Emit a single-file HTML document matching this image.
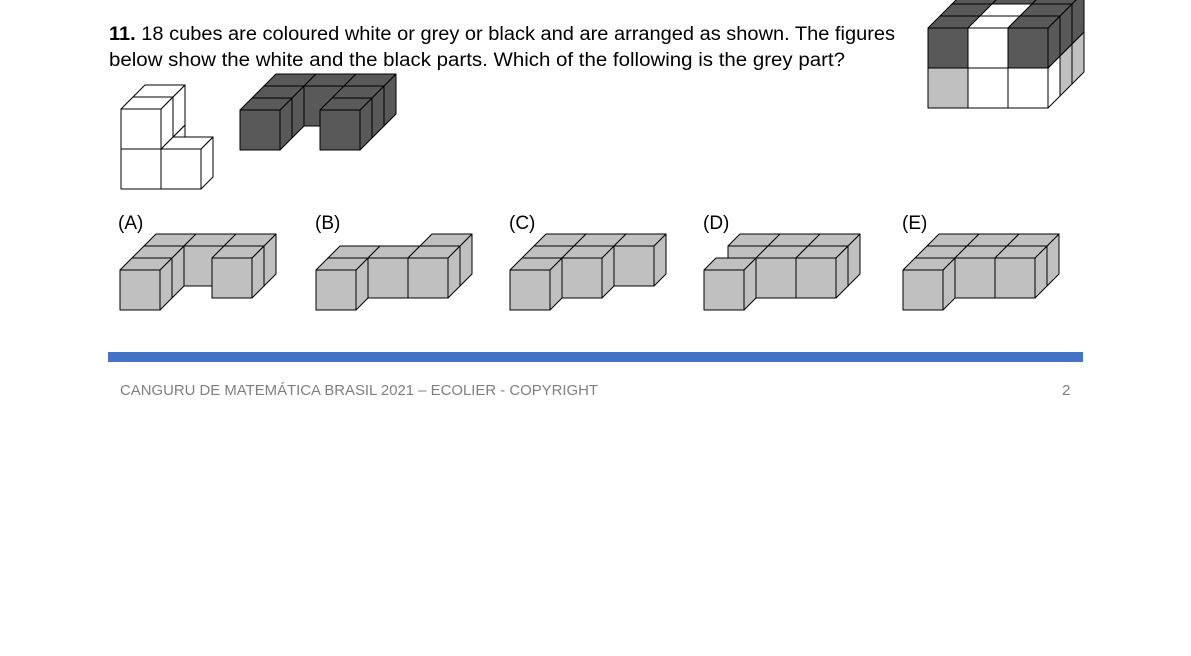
<!DOCTYPE html>
<html><head><meta charset="utf-8"><style>
html,body{margin:0;padding:0;background:#fff;width:1191px;height:656px;overflow:hidden}
svg{display:block}
text{font-family:"Liberation Sans",sans-serif}
</style></head><body>
<svg id="s" width="1191" height="656" viewBox="0 0 1191 656" xmlns="http://www.w3.org/2000/svg">
<rect width="1191" height="656" fill="#fff"/>
<text x="109" y="40" font-size="19" textLength="786" lengthAdjust="spacingAndGlyphs"><tspan font-weight="bold">11.</tspan> 18 cubes are coloured white or grey or black and are arranged as shown. The figures</text>
<text x="109" y="66" font-size="19" textLength="736" lengthAdjust="spacingAndGlyphs">below show the white and the black parts. Which of the following is the grey part?</text>
<text x="118" y="229" font-size="19">(A)</text>
<text x="315" y="229" font-size="19">(B)</text>
<text x="509" y="229" font-size="19">(C)</text>
<text x="703" y="229" font-size="19">(D)</text>
<text x="902" y="229" font-size="19">(E)</text>
<rect x="108" y="352" width="975" height="10" fill="#4472c4"/>
<text x="120" y="395" font-size="15" fill="#7f7f7f" textLength="478" lengthAdjust="spacingAndGlyphs">CANGURU DE MATEMÁTICA BRASIL 2021 – ECOLIER - COPYRIGHT</text>
<text x="1062" y="395" font-size="15" fill="#7f7f7f">2</text>
<g id="g"></g>
</svg>
<script>
var g=document.getElementById('g'),S=40,D=12;
function poly(pts,fill){var p=document.createElementNS('http://www.w3.org/2000/svg','polygon');p.setAttribute('points',pts.map(function(a){return a[0]+','+a[1]}).join(' '));p.setAttribute('fill',fill);p.setAttribute('stroke','#000');p.setAttribute('stroke-width','1');p.setAttribute('stroke-linejoin','round');g.appendChild(p);}
function shade(c,k){var n=parseInt(c.slice(1),16),r=(n>>16)&255,gg=(n>>8)&255,b=n&255;r=Math.round(r*k);gg=Math.round(gg*k);b=Math.round(b*k);return 'rgb('+r+','+gg+','+b+')';}
function cube(ox,oy,i,r,h,f){var x=ox+S*i+D*r,y=oy-S*h-D*r;
poly([[x,y],[x+S,y],[x+S,y-S],[x,y-S]],f);
poly([[x+S,y],[x+S+D,y-D],[x+S+D,y-S-D],[x+S,y-S]],f);
poly([[x,y-S],[x+S,y-S],[x+S+D,y-S-D],[x+D,y-S-D]],f);}
// cubes: list of [i,r,h,color]
function draw(ox,oy,list){list.sort(function(a,b){return (b[1]-a[1])||(a[2]-b[2])||(a[0]-b[0]);});list.forEach(function(c){cube(ox,oy,c[0],c[1],c[2],c[3]);});}
function rows(spec,col){var l=[];spec.forEach(function(cols,r){cols.forEach(function(i){l.push([i,r,0,col]);});});return l;}
var GR='#c0c0c0',BK='#595959',W='#ffffff';
// white part
draw(121,189,[[0,0,0,W],[1,0,0,W],[0,1,0,W],[0,0,1,W],[0,1,1,W]]);
// black part
draw(240,150,rows([[0,2],[0,2],[0,1,2]],BK));
// options
draw(120,310,rows([[0],[0,2],[0,1,2]],GR));
draw(316,310,rows([[0],[0,1,2],[2]],GR));
draw(510,310,rows([[0],[0,1],[0,1,2]],GR));
draw(704,310,rows([[0],[1,2],[0,1,2]],GR));
draw(903,310,rows([[0],[0,1,2],[0,1,2]],GR));
// big block
var big=[];
for(var r=0;r<3;r++)for(var i=0;i<3;i++){
 var c0=W,c1=BK;
 if(i==0)c0=GR;
 if(i==2&&r>0)c0=GR;
 if(i==1&&r<2)c1=W;
 big.push([i,r,0,c0]);big.push([i,r,1,c1]);}
draw(928,108,big);
</script>
</body></html>
